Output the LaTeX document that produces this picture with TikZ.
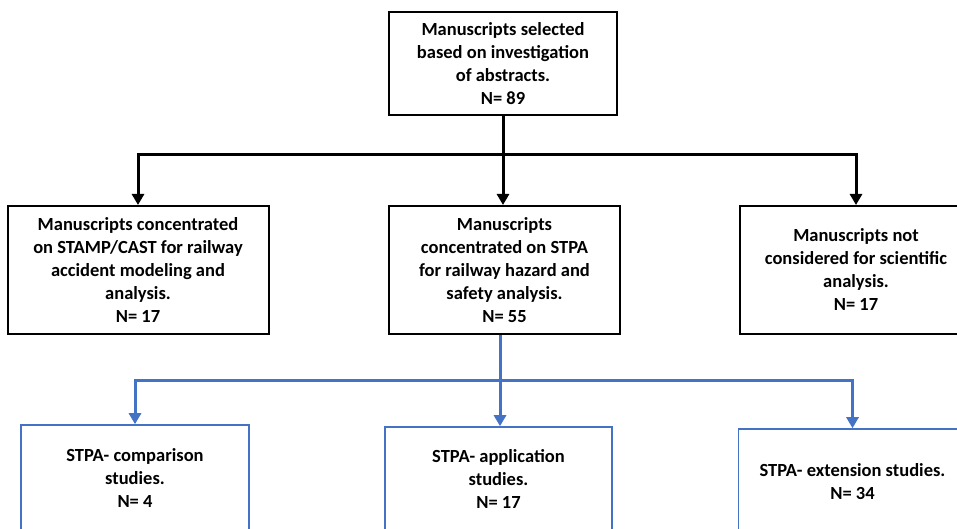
\documentclass[tikz,border=0pt]{standalone}
\usepackage{fontspec}
\setmainfont{Carlito}
\usetikzlibrary{arrows.meta}
\definecolor{oblue}{HTML}{4472C4}
\tikzset{
  bbox/.style={draw=black, line width=2pt, fill=white, align=center, font=\bfseries\fontsize{18.5}{23}\selectfont, inner sep=2pt},
  ubox/.style={draw=oblue, line width=1.6pt, fill=white, align=center, font=\bfseries\fontsize{18.5}{23}\selectfont, inner sep=2pt},
  blk/.style={draw=black, line width=3pt},
  blu/.style={draw=oblue, line width=3pt},
  arr/.style={-{Triangle[width=12pt,length=11pt]}},
}
\begin{document}
\begin{tikzpicture}[x=1pt,y=-1pt]
\useasboundingbox (0,0) rectangle (957,529);
\clip (0,0) rectangle (957,529);
\node[bbox, minimum width=228pt, minimum height=103pt] (top) at (503,63.5) {Manuscripts selected\\based on investigation\\of abstracts.\\N= 89};
\node[bbox, minimum width=261pt, minimum height=128pt] (left) at (138,270) {Manuscripts concentrated\\on STAMP/CAST for railway\\accident modeling and\\analysis.\\N= 17};
\node[bbox, minimum width=231pt, minimum height=128pt] (mid) at (504.5,270) {Manuscripts\\concentrated on STPA\\for railway hazard and\\safety analysis.\\N= 55};
\node[bbox, minimum width=232pt, minimum height=128pt] (right) at (856,270) {Manuscripts not\\considered for scientific\\analysis.\\N= 17};
\node[ubox, minimum width=228pt, minimum height=106pt] (b1) at (135,478) {STPA- comparison\\studies.\\N= 4};
\node[ubox, minimum width=227pt, minimum height=104pt] (b2) at (498.5,479) {STPA- application\\studies.\\N= 17};
\node[ubox, minimum width=228pt, minimum height=106pt] (b3) at (852.5,482) {STPA- extension studies.\\N= 34};
\coordinate (j1) at (503,155);
\coordinate (j2) at (500,380);
\draw[blk] (top.south) -- (j1);
\draw[blk,arr] (j1) -| (left.north);
\draw[blk,arr] (j1) -- (top.south |- mid.north);
\draw[blk,arr] (j1) -| (right.north);
\draw[blu] (j2 |- mid.south) -- (j2);
\draw[blu,arr] (j2) -| (b1.north);
\draw[blu,arr] (j2) -- (j2 |- b2.north);
\draw[blu,arr] (j2) -| (b3.north);
\end{tikzpicture}
\end{document}
